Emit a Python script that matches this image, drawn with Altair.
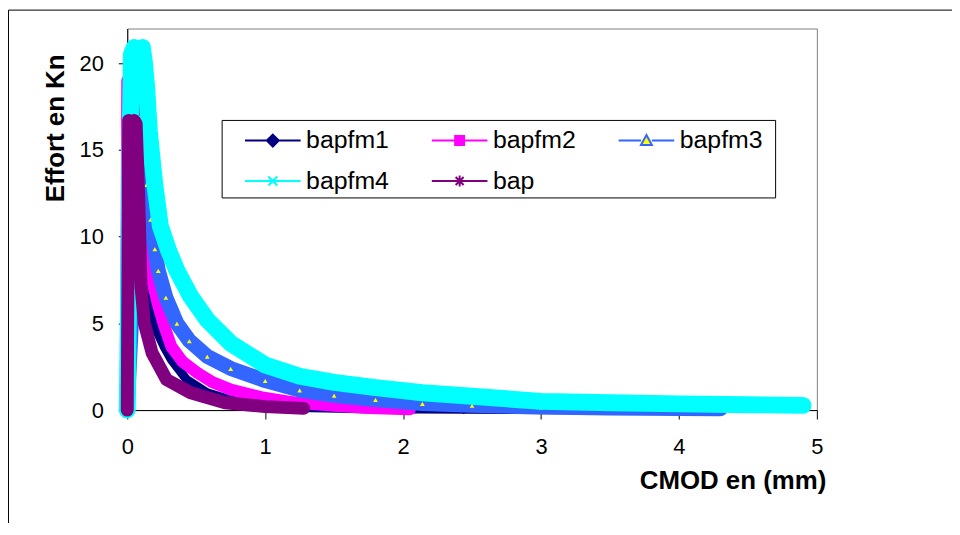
import altair as alt
import pandas as pd

series_names = ["bapfm1", "bapfm2", "bapfm3", "bapfm4", "bap"]

bapfm1_x = [0, 0.02, 0.04, 0.06, 0.09, 0.12, 0.145, 0.18, 0.22, 0.27, 0.32, 0.43, 0.58, 0.75, 1.0, 1.24, 1.7, 2.44, 3.2]
bapfm1_y = [0, 8, 14, 12.5, 10, 8, 6.5, 5.3, 4.45, 3.6, 2.9, 1.76, 1.0, 0.6, 0.35, 0.15, 0.08, 0.04, 0.02]

bapfm2_x = [-0.01, -0.005, 0.0, 0.03, 0.06, 0.09, 0.12, 0.15, 0.18, 0.22, 0.27, 0.32, 0.4, 0.51, 0.62, 0.75, 0.99, 1.23, 1.5, 1.75, 2.05]
bapfm2_y = [0, 10, 19, 18.5, 16, 13.5, 11, 9.0, 7.5, 6.15, 4.8, 3.66, 2.8, 2.14, 1.6, 1.18, 0.71, 0.42, 0.25, 0.12, 0.05]

bapfm3_x = [0, 0.03, 0.06, 0.075, 0.09, 0.1, 0.12, 0.14, 0.17, 0.2, 0.225, 0.28, 0.36, 0.45, 0.58, 0.75, 1.0, 1.25, 1.5, 1.8, 2.14, 2.5, 3.0, 3.5, 4.0, 4.3]
bapfm3_y = [0, 5, 12, 18.7, 18.3, 17, 15, 13, 11, 9.3, 8.05, 6.5, 5.0, 4.0, 3.1, 2.4, 1.7, 1.15, 0.85, 0.6, 0.38, 0.27, 0.17, 0.12, 0.09, 0.07]

bapfm4_x = [0, 0.01, 0.02, 0.03, 0.05, 0.07, 0.09, 0.11, 0.125, 0.14, 0.16, 0.18, 0.2, 0.24, 0.3, 0.36, 0.46, 0.58, 0.75, 1.0, 1.25, 1.5, 1.8, 2.14, 2.5, 3.0, 3.5, 4.0, 4.5, 4.9]
bapfm4_y = [0, 7, 15, 20.5, 20.9, 20.5, 20.6, 20.9, 20, 18.7, 16.1, 14.5, 13.0, 10.6, 9.2, 8.05, 6.55, 5.2, 3.85, 2.6, 1.95, 1.6, 1.3, 1.0, 0.8, 0.5, 0.42, 0.36, 0.31, 0.27]

bap_x = [0, 0.005, 0.01, 0.03, 0.05, 0.065, 0.08, 0.088, 0.1, 0.124, 0.18, 0.285, 0.46, 0.71, 1.0, 1.28]
bap_y = [0, 8, 16.7, 16.6, 16.7, 16.5, 13, 10.9, 7.1, 5.0, 3.3, 1.76, 1.0, 0.42, 0.2, 0.1]

x_ticks = [0, 1, 2, 3, 4, 5]
y_ticks = [0, 5, 10, 15, 20]

line_colors = ["#000080", "#FF00FF", "#3366FF", "#00FFFF", "#800080"]
marker_fills = ["#000080", "#FF00FF", "#FFFF00", "#00FFFF", "#800080"]
band_widths = [9, 12, 15, 17, 13]
chart_shapes = ["diamond", "square", "triangle-up",
                "M-1,-1L1,1M-1,1L1,-1",
                "M-1,0L1,0M0,-1L0,1M-0.7,-0.7L0.7,0.7M-0.7,0.7L0.7,-0.7"]
chart_filled = [True, True, True, False, False]
legend_paths = [
    "M-5.6,0H-1.1M1.1,0H5.6M0,-1.2L1.2,0L0,1.2L-1.2,0Z",
    "M-5.6,0H-0.9M0.9,0H5.6M-0.9,-0.9H0.9V0.9H-0.9Z",
    "M-5.6,0H-1.1M1.1,0H5.6M0,-1.1L1.1,0.9H-1.1Z",
    "M-5.6,0H5.6M-0.9,-0.9L0.9,0.9M-0.9,0.9L0.9,-0.9",
    "M-5.6,0H5.6M0,-1.1L0,1.1M-0.8,-0.8L0.8,0.8M-0.8,0.8L0.8,-0.8",
]

all_x = [bapfm1_x, bapfm2_x, bapfm3_x, bapfm4_x, bap_x]
all_y = [bapfm1_y, bapfm2_y, bapfm3_y, bapfm4_y, bap_y]

rows = []
for name, xs, ys in zip(series_names, all_x, all_y):
    for i, (xv, yv) in enumerate(zip(xs, ys)):
        rows.append({"series": name, "i": i, "x": xv, "y": yv})
df = pd.DataFrame(rows)

FONT = "Liberation Sans"

x_enc = alt.X(
    "x:Q",
    scale=alt.Scale(domain=[0, 5], nice=False, zero=False),
    axis=alt.Axis(
        values=x_ticks, title="CMOD en (mm)", grid=False,
        tickSize=9, labelPadding=18, labelFontSize=22, labelFont=FONT, labelColor="black",
        domainColor="black", tickColor="black", labelFlush=False,
        titleFont=FONT, titleFontSize=26, titleFontWeight="bold", titleColor="black",
        titleX=703, titleY=71, titleAlign="right", titleBaseline="middle",
    ),
)
y_enc = alt.Y(
    "y:Q",
    scale=alt.Scale(domain=[0, 22], nice=False, zero=False),
    axis=alt.Axis(
        values=y_ticks, title="Effort en Kn", grid=False,
        tickSize=9, labelPadding=15, labelFontSize=22, labelFont=FONT, labelColor="black",
        domainColor="black", tickColor="black", labelFlush=False,
        titleFont=FONT, titleFontSize=26, titleFontWeight="bold", titleColor="black",
        titleAngle=270, titleX=-72, titleY=100, titleAlign="center", titleBaseline="middle",
    ),
)

one = pd.DataFrame({"k": [0]})
outer = alt.Chart(one).mark_rect(fillOpacity=0, stroke="black", strokeWidth=1).encode(
    x=alt.value(-119.5), x2=alt.value(900), y=alt.value(-18.5), y2=alt.value(700)
)

layers = [outer]
for idx, name in enumerate(series_names):
    base = alt.Chart(df).transform_filter(alt.datum.series == name)
    line = base.mark_line(
        color=line_colors[idx], strokeWidth=band_widths[idx],
        strokeJoin="round", strokeCap="round",
    ).encode(x=x_enc, y=y_enc, order="i:Q")
    if chart_filled[idx]:
        pts = base.mark_point(
            shape=chart_shapes[idx], filled=True, fill=marker_fills[idx],
            stroke=line_colors[idx], strokeWidth=1.5, size=55, opacity=1,
        )
    else:
        pts = base.mark_point(
            shape=chart_shapes[idx], filled=False,
            stroke=line_colors[idx], strokeWidth=1.5, size=55, opacity=1,
        )
    pts = pts.encode(x=x_enc, y=y_enc)
    layers += [line, pts]

legend_box = alt.Chart(one).mark_rect(fill="white", stroke="black", strokeWidth=1).encode(
    x=alt.value(95.5), x2=alt.value(652.5), y=alt.value(92.5), y2=alt.value(170.5)
)
layers.append(legend_box)

leg = alt.Legend(
    title=None, orient="none", legendX=134, legendY=100, columns=3, direction="horizontal",
    labelFont=FONT, labelFontSize=25, labelColor="black", labelOffset=21, labelLimit=300,
    columnPadding=38, rowPadding=15, padding=0, symbolSize=100, symbolStrokeWidth=2,
    symbolOpacity=1,
)
legend_layer = alt.Chart(df).transform_filter("false").mark_point(
    filled=True, size=100, strokeWidth=2, opacity=1
).encode(
    x=x_enc, y=y_enc,
    shape=alt.Shape("series:N", scale=alt.Scale(domain=series_names, range=legend_paths), legend=leg),
    fill=alt.Fill("series:N", scale=alt.Scale(domain=series_names, range=marker_fills), legend=leg),
    stroke=alt.Stroke("series:N", scale=alt.Scale(domain=series_names, range=line_colors), legend=leg),
)
layers.append(legend_layer)

chart = alt.layer(*layers).properties(
    width=694, height=384,
    padding={"left": 120, "top": 19, "right": 136, "bottom": 112},
    autosize=alt.AutoSizeParams(type="none"),
    background="white",
).configure_view(stroke="#808080", strokeWidth=1)

chart.save("out.html", embed_options={"renderer": "svg", "actions": False})
